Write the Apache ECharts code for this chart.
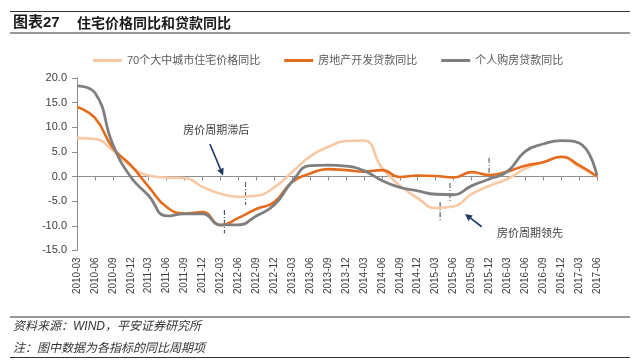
<!DOCTYPE html>
<html><head><meta charset="utf-8">
<script src="https://cdn.jsdelivr.net/npm/echarts@6/dist/echarts.min.js"></script>
<style>html,body{margin:0;padding:0;background:#fff}#c{width:640px;height:363px}</style>
</head><body><div id="c"></div>
<script>
const categories = ['2010-03','2010-06','2010-09','2010-12','2011-03','2011-06','2011-09','2011-12','2012-03','2012-06','2012-09','2012-12','2013-03','2013-06','2013-09','2013-12','2014-03','2014-06','2014-09','2014-12','2015-03','2015-06','2015-09','2015-12','2016-03','2016-06','2016-09','2016-12','2017-03','2017-06'];
const housePrice = [7.8,7.6,5.3,2.1,0.2,-0.2,-0.3,-2.1,-3.5,-4.1,-3.9,-2.2,0.9,4.1,6.0,7.2,7.3,1.8,-1.8,-4.4,-6.4,-6.1,-3.6,-1.9,-0.5,1.6,2.9,3.9,2.0,0];
const devLoan = [14.1,11.9,5.8,2.3,-2.1,-6.2,-7.5,-7.2,-9.9,-8.4,-6.6,-5.2,-1.1,0.6,1.5,1.3,1.0,1.3,-0.1,0.2,0.1,-0.2,0.9,0.3,1.0,2.2,2.9,4.0,2.3,0];
const mortgage = [18.4,17.0,6.5,-0.1,-3.9,-8.0,-7.6,-7.6,-9.8,-9.8,-8.0,-5.8,-1.0,2.2,2.3,2.1,1.2,-0.8,-2.2,-2.9,-3.6,-3.7,-1.9,-0.5,1.0,5.1,6.6,7.3,6.8,0.2];
const seriesNames = ['70个大中城市住宅价格同比','房地产开发贷款同比','个人购房贷款同比'];
const yTicks = {min:-15, max:20, interval:5};
// annotation positions in data units: [category index (fractional), value]
const cycleMarks = [ // [q, vTop, vBottom, kind]
  [8.22,-6.8,-11.5,'a'],[9.40,-1.1,-5.8,'b'],[20.25,-5.2,-9.2,'a'],[20.80,-1.3,-5.4,'b'],[22.98,3.8,-0.3,'b']
];
const lagArrow = {from:[7.41,6.6], to:[8.15,0.2], text:'房价周期滞后', textAt:[7.77,9.4]};
const leadArrow = {from:[22.57,-10.2], to:[21.64,-7.6], text:'房价周期领先', textAt:[25.27,-11.4]};

const chart = echarts.init(document.getElementById('c'), null, {renderer:'canvas'});
const cjk = "'Liberation Sans','Noto Sans CJK SC',sans-serif";
const axisGray = '#8c8c8c';
chart.setOption({
  animation:false,
  backgroundColor:'#fff',
  grid:{left:77, right:43, top:78, bottom:112.6, containLabel:false},
  legend:{
    top:55, left:93, padding:0, itemGap:24, itemWidth:29, itemHeight:3, icon:'rect',
    textStyle:{fontSize:11, color:'#595959', fontFamily:cjk},
    data:seriesNames
  },
  xAxis:[
    {type:'category', data:categories, boundaryGap:false, position:'bottom',
     axisLine:{onZero:true, lineStyle:{color:axisGray, width:1}},
     axisTick:{show:true, length:4, interval:0, lineStyle:{color:axisGray}},
     axisLabel:{show:false}, splitLine:{show:false}},
    {type:'category', data:categories, boundaryGap:false, position:'bottom',
     axisLine:{show:false, onZero:false}, axisTick:{show:false},
     axisLabel:{show:true, rotate:90, interval:0, margin:7, fontSize:10, color:'#404040', fontFamily:"'Liberation Sans',sans-serif"},
     splitLine:{show:false}}
  ],
  yAxis:{type:'value', min:yTicks.min, max:yTicks.max, interval:yTicks.interval,
    axisLine:{show:true, lineStyle:{color:axisGray}},
    axisTick:{show:true, length:5, lineStyle:{color:axisGray}},
    splitLine:{show:false},
    axisLabel:{fontSize:11, color:'#404040', margin:10, fontFamily:"'Liberation Sans',sans-serif", formatter:v=>v.toFixed(1)}
  },
  series:[
    {name:seriesNames[0], type:'line', data:housePrice, smooth:0.5, showSymbol:false, symbol:'none',
     lineStyle:{color:'#f8c9a4', width:2.6}, itemStyle:{color:'#f8c9a4'}},
    {name:seriesNames[1], type:'line', data:devLoan, smooth:0.5, showSymbol:false, symbol:'none',
     lineStyle:{color:'#e36c1e', width:2.6}, itemStyle:{color:'#e36c1e'}},
    {name:seriesNames[2], type:'line', data:mortgage, smooth:0.5, showSymbol:false, symbol:'none',
     lineStyle:{color:'#7f7f7f', width:2.8}, itemStyle:{color:'#7f7f7f'}}
  ]
});

function px(p){
  const q=p[0], v=p[1];
  const i=Math.min(Math.floor(q), categories.length-2), f=q-i;
  const a=chart.convertToPixel({gridIndex:0},[i,v]);
  const b=chart.convertToPixel({gridIndex:0},[i+1,v]);
  return [a[0]+(b[0]-a[0])*f, a[1]];
}
const g=[];
// header / footer
g.push({type:'line', shape:{x1:10,y1:11.5,x2:630,y2:11.5}, style:{stroke:'#333',lineWidth:1.2}});
g.push({type:'line', shape:{x1:10,y1:33,x2:630,y2:33}, style:{stroke:'#333',lineWidth:1.2}});
g.push({type:'text', x:13, y:23, style:{text:'图表27', fill:'#1a1a1a', font:"bold 15px 'Liberation Sans','Noto Sans CJK SC'", textVerticalAlign:'middle'}});
g.push({type:'text', x:77, y:23, style:{text:'住宅价格同比和贷款同比', fill:'#1a1a1a', font:"bold 14px 'Noto Sans CJK SC'", textVerticalAlign:'middle'}});
g.push({type:'line', shape:{x1:10,y1:317,x2:630,y2:317}, style:{stroke:'#333',lineWidth:1}});
g.push({type:'line', shape:{x1:10,y1:357.5,x2:630,y2:357.5}, style:{stroke:'#333',lineWidth:1}});
g.push({type:'text', x:13, y:327, style:{text:'资料来源：WIND，平安证券研究所', fill:'#333', font:"italic 12px 'Liberation Sans','Noto Sans CJK SC'", textVerticalAlign:'middle'}});
g.push({type:'text', x:13, y:347.5, style:{text:'注：图中数据为各指标的同比周期项', fill:'#333', font:"italic 12px 'Noto Sans CJK SC'", textVerticalAlign:'middle'}});
// dashed cycle markers
cycleMarks.forEach(m=>{
  const t=px([m[0],m[1]]), b=px([m[0],m[2]]);
  g.push({type:'line', shape:{x1:t[0],y1:t[1],x2:b[0],y2:b[1]},
    style:{stroke:m[3]==='a'?'#3b4a6b':'#595959', lineWidth:1.1, lineDash:[5,2,1,2]}});
});
function arrow(a){
  const s=px(a.from), e=px(a.to);
  const dx=e[0]-s[0], dy=e[1]-s[1], L=Math.hypot(dx,dy), ux=dx/L, uy=dy/L;
  const hl=7, hw=3.5;
  const bx=e[0]-ux*hl, by=e[1]-uy*hl;
  g.push({type:'line', shape:{x1:s[0],y1:s[1],x2:bx,y2:by}, style:{stroke:'#1f3864',lineWidth:1.6}});
  g.push({type:'polygon', shape:{points:[[e[0],e[1]],[bx-uy*hw,by+ux*hw],[bx+uy*hw,by-ux*hw]]}, style:{fill:'#1f3864'}});
  const tp=px(a.textAt);
  g.push({type:'text', x:tp[0], y:tp[1], style:{text:a.text, fill:'#404040', font:"11px 'Noto Sans CJK SC'", textAlign:'center', textVerticalAlign:'middle'}});
}
arrow(lagArrow); arrow(leadArrow);
chart.setOption({graphic:g});
</script></body></html>
